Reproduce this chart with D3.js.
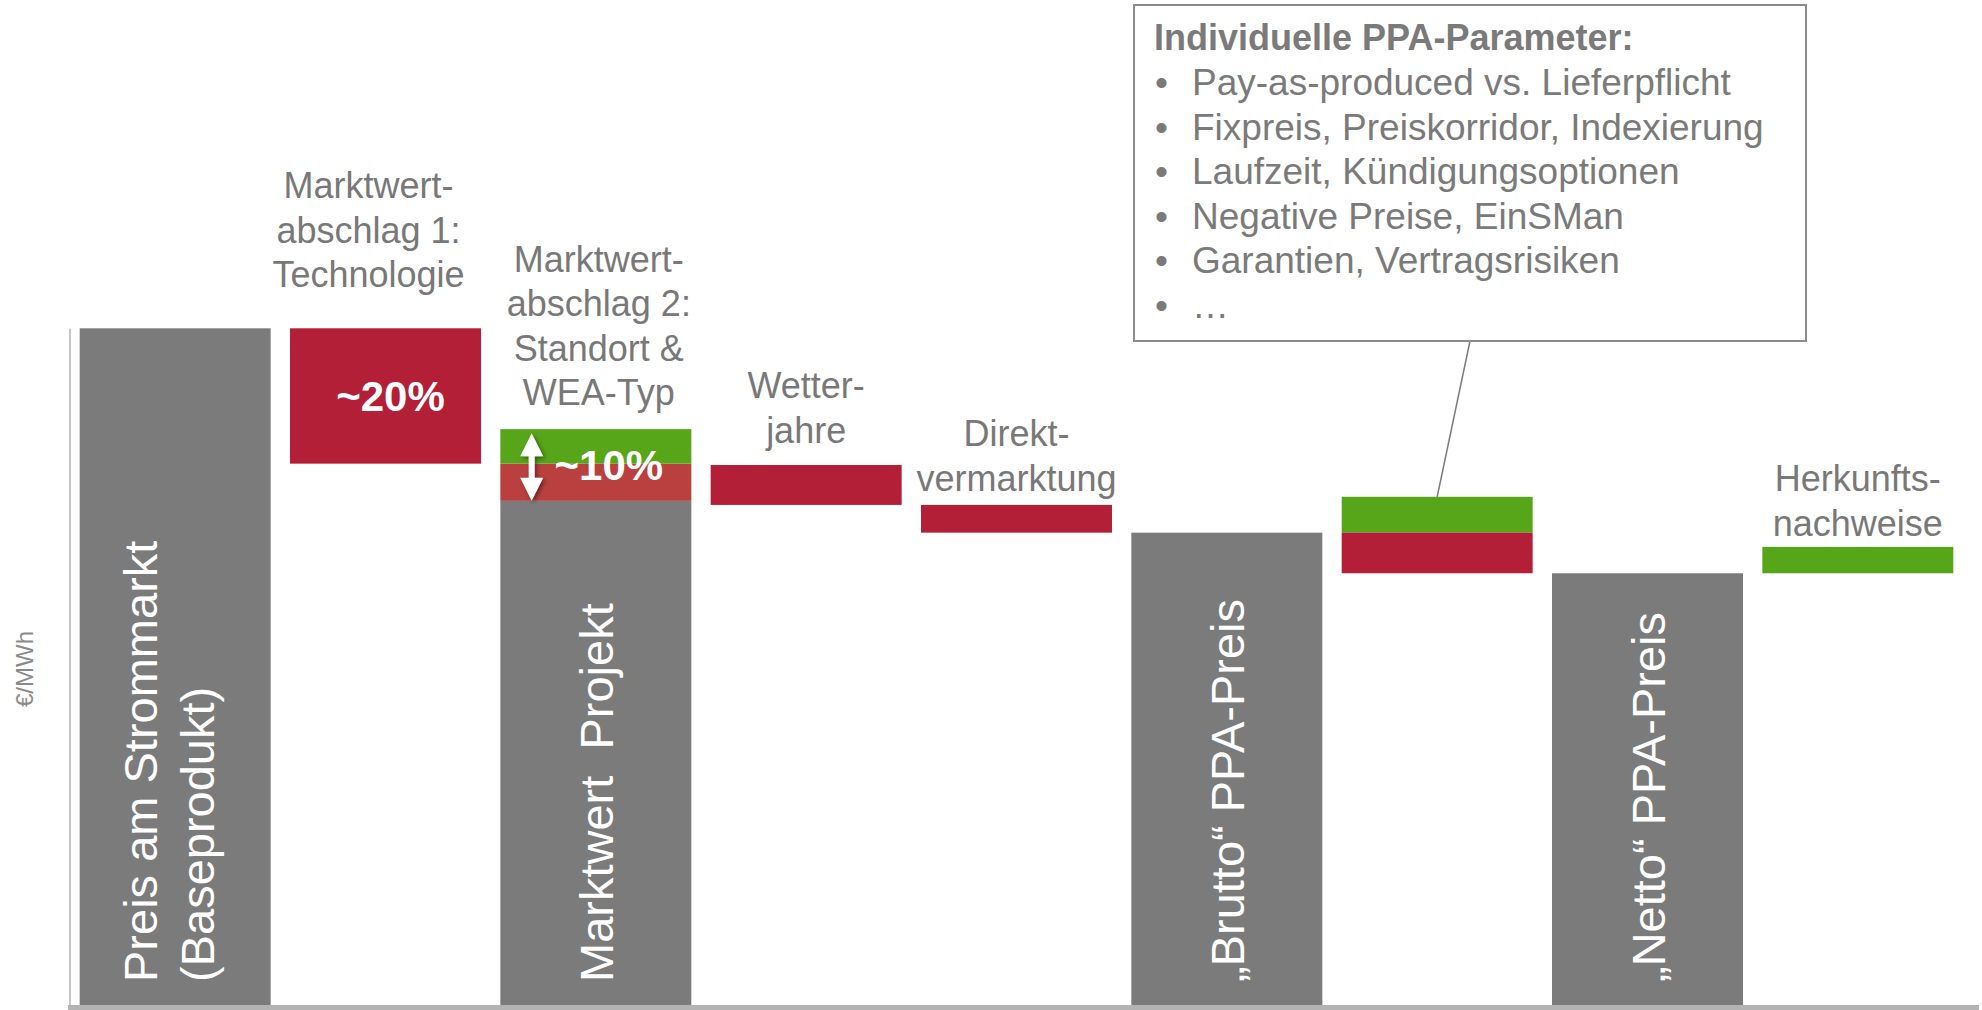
<!DOCTYPE html>
<html>
<head>
<meta charset="utf-8">
<script src="https://cdn.jsdelivr.net/npm/d3@7"></script>
<style>
  html, body { margin: 0; padding: 0; background: #fff; }
  svg text { font-family: "Liberation Sans", Arial, sans-serif; }
</style>
</head>
<body>
<script>
  // categories of the waterfall (one band each)
  var categories = ["Preis am Strommarkt", "Marktwertabschlag 1", "Marktwert Projekt", "Wetterjahre",
    "Direktvermarktung", "Brutto PPA-Preis", "PPA-Parameter", "Netto PPA-Preis", "Herkunftsnachweise"];

  // segments (€/MWh, indexed, base price = 100)
  var segCategory = [0, 1, 2, 2, 2, 3, 4, 5, 6, 6, 7, 8];
  var segLow = [0, 80, 0, 74.5, 80, 73.9, 69.8, 0, 69.8, 63.8, 0, 63.8];
  var segHigh = [100, 100, 74.5, 80, 85.1, 79.8, 73.9, 69.8, 75.1, 69.8, 63.8, 67.7];
  var segType = ["total", "minus", "total", "range", "plus", "minus", "minus", "total", "plus", "minus", "total", "plus"];

  var topLabels = [null, ["Marktwert-", "abschlag 1:", "Technologie"], ["Marktwert-", "abschlag 2:", "Standort &", "WEA-Typ"],
    ["Wetter-", "jahre"], ["Direkt-", "vermarktung"], null, null, null, ["Herkunfts-", "nachweise"]];
  var barLabels = [["Preis am Strommarkt", "(Baseprodukt)"], null, ["Marktwert  Projekt"], null, null,
    ["\u201EBrutto\u201C PPA-Preis"], null, ["\u201ENetto\u201C PPA-Preis"], null];
  var pctLabels = [null, "~20%", "~10%", null, null, null, null, null, null];

  var boxTitle = "Individuelle PPA-Parameter:";
  var boxItems = ["Pay-as-produced vs. Lieferpflicht", "Fixpreis, Preiskorridor, Indexierung",
    "Laufzeit, K\u00FCndigungsoptionen", "Negative Preise, EinSMan", "Garantien, Vertragsrisiken", "\u2026"];

  var colors = { total: "#7a7b7a", minus: "#b21f37", range: "#b9403f", plus: "#57a518" };
  var textGray = "#787878";

  var width = 1982, height = 1010;

  var svg = d3.select("body").append("svg").attr("width", width).attr("height", height);

  var x = d3.scaleBand().domain(d3.range(categories.length)).range([70, 1963])
    .paddingInner(0.092).paddingOuter(0.046);
  var y = d3.scaleLinear().domain([0, 100]).range([1005, 328.3]);

  var defs = svg.append("defs");
  var f = defs.append("filter").attr("id", "shadow").attr("x", "-50%").attr("y", "-50%").attr("width", "200%").attr("height", "200%");
  f.append("feDropShadow").attr("dx", 2).attr("dy", 2).attr("stdDeviation", 2).attr("flood-color", "#000").attr("flood-opacity", 0.45);

  // axes
  svg.append("g").attr("transform", "translate(69.5,0)")
    .call(d3.axisLeft(y).ticks(0).tickSizeOuter(0))
    .call(function(g) { g.select(".domain").attr("stroke", "#c6c6c6").attr("stroke-width", 2); });
  svg.append("line").attr("x1", 68).attr("x2", 1979).attr("y1", 1007.5).attr("y2", 1007.5)
    .attr("stroke", "#b3b3b3").attr("stroke-width", 5);

  svg.append("text").attr("transform", "translate(33,669) rotate(-90)")
    .attr("text-anchor", "middle").attr("fill", "#8a8a8a").style("font-size", "24px").text("\u20AC/MWh");

  // bars
  svg.selectAll("rect.seg").data(d3.range(segLow.length)).enter().append("rect")
    .attr("class", "seg")
    .attr("x", function(i) { return x(segCategory[i]); })
    .attr("width", x.bandwidth())
    .attr("y", function(i) { return y(segHigh[i]); })
    .attr("height", function(i) { return y(segLow[i]) - y(segHigh[i]); })
    .attr("fill", function(i) { return colors[segType[i]]; });

  // category labels above the changes
  var labelGap = { 1: 41, 2: 24, 3: 22, 4: 14, 8: 11 };
  var labelDx = { 1: -17, 2: 3 };
  topLabels.forEach(function(lines, c) {
    if (!lines) return;
    var top = d3.max(segHigh.filter(function(v, i) { return segCategory[i] === c; }));
    var last = y(top) - labelGap[c];
    var cx = x(c) + x.bandwidth() / 2 + (labelDx[c] || 0);
    svg.append("text").attr("text-anchor", "middle").attr("fill", textGray).style("font-size", "36px")
      .selectAll("tspan").data(lines).enter().append("tspan")
      .attr("x", cx)
      .attr("y", function(d, k) { return last - (lines.length - 1 - k) * 44.5; })
      .text(function(d) { return d; });
  });

  // rotated labels inside total bars
  barLabels.forEach(function(lines, c) {
    if (!lines) return;
    var cx = x(c) + x.bandwidth() / 2;
    var offs = lines.length === 2 ? [-18, 39] : [17];
    var g = svg.append("g").attr("transform", "translate(" + cx + ",982) rotate(-90)");
    g.selectAll("text").data(lines).enter().append("text")
      .attr("x", 0).attr("y", function(d, k) { return offs[k]; })
      .attr("fill", "#fff").style("font-size", "47px").style("white-space", "pre")
      .attr("xml:space", "preserve")
      .text(function(d) { return d; });
  });

  // percentage labels
  var pctDx = { 1: 5, 2: 13 };
  pctLabels.forEach(function(t, c) {
    if (!t) return;
    var idx = d3.range(segLow.length).filter(function(i) { return segCategory[i] === c && segType[i] !== "total"; });
    var hi = d3.max(idx, function(i) { return segHigh[i]; });
    var lo = d3.min(idx, function(i) { return segLow[i]; });
    svg.append("text").attr("x", x(c) + x.bandwidth() / 2 + pctDx[c]).attr("y", y((hi + lo) / 2) + 15)
      .attr("text-anchor", "middle").attr("fill", "#fff").style("font-size", "42px").style("font-weight", "bold")
      .text(t);
  });

  // double arrow on Marktwertabschlag 2
  (function() {
    var ax = 531.7, y1 = y(85.1) + 4, y2 = y(74.5);
    var hw = 11.5, hh = 23, sw = 3;
    var p = "M" + ax + "," + y1 + " L" + (ax + hw) + "," + (y1 + hh) + " L" + (ax + sw) + "," + (y1 + hh) +
      " L" + (ax + sw) + "," + (y2 - hh) + " L" + (ax + hw) + "," + (y2 - hh) + " L" + ax + "," + y2 +
      " L" + (ax - hw) + "," + (y2 - hh) + " L" + (ax - sw) + "," + (y2 - hh) + " L" + (ax - sw) + "," + (y1 + hh) +
      " L" + (ax - hw) + "," + (y1 + hh) + " Z";
    svg.append("path").attr("d", p).attr("fill", "#fff").attr("filter", "url(#shadow)");
  })();

  // annotation box for PPA parameters
  var bx = 1134, by = 5, bw = 672, bh = 336;
  var pc = 6;
  svg.append("line").attr("x1", 1470).attr("y1", by + bh)
    .attr("x2", x(pc) + x.bandwidth() / 2).attr("y2", y(75.1))
    .attr("stroke", "#7a7a7a").attr("stroke-width", 1.5);
  svg.append("rect").attr("x", bx).attr("y", by).attr("width", bw).attr("height", bh)
    .attr("fill", "#fff").attr("stroke", "#8c8c8c").attr("stroke-width", 2);
  svg.append("text").attr("x", bx + 20).attr("y", 50).attr("fill", "#7a7a7a")
    .style("font-size", "36px").style("font-weight", "bold").text(boxTitle);
  var items = svg.append("g");
  items.selectAll("text.b").data(boxItems).enter().append("text").attr("class", "b")
    .attr("x", bx + 21).attr("y", function(d, k) { return 95 + k * 44.6; })
    .attr("fill", "#7a7a7a").style("font-size", "37px").text("\u2022");
  items.selectAll("text.t").data(boxItems).enter().append("text").attr("class", "t")
    .attr("x", bx + 58).attr("y", function(d, k) { return 95 + k * 44.6; })
    .attr("fill", "#7a7a7a").style("font-size", "37px").text(function(d) { return d; });
</script>
</body>
</html>
